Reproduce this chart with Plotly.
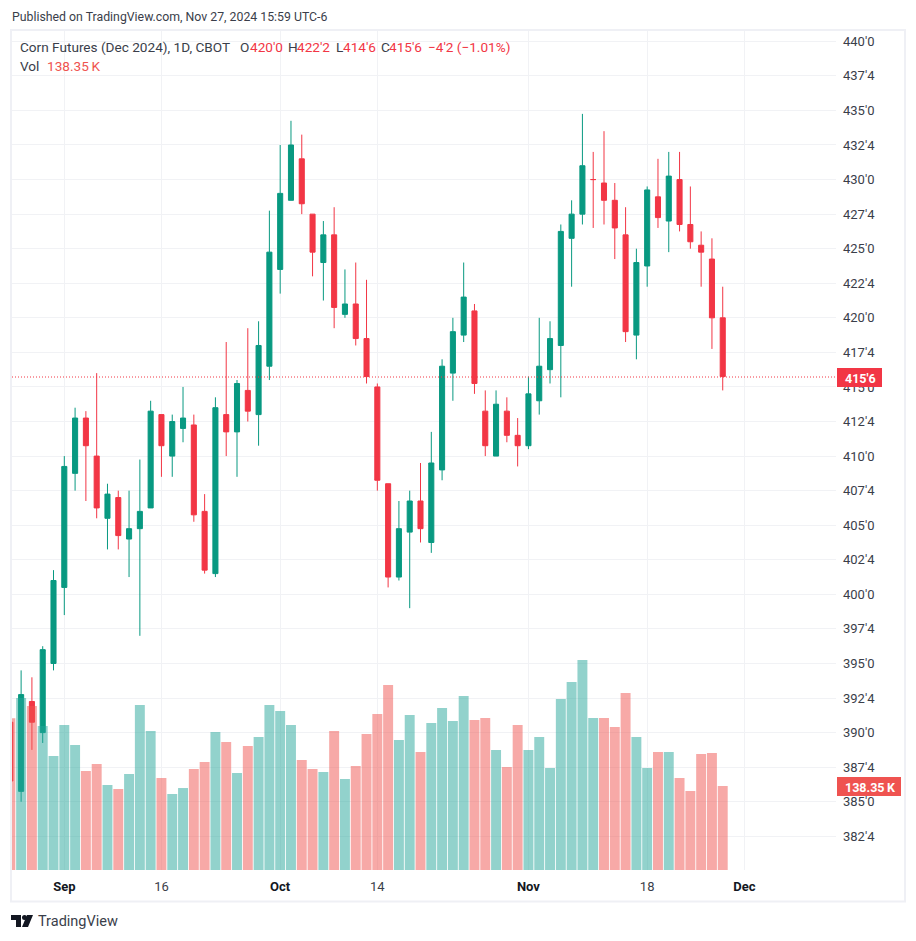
import plotly.graph_objects as go

# offset of the page body, the figure sits 8px in from the window edge
PAGE = 8
W, H = 916 - 2 * PAGE, 941 - 2 * PAGE

# plot area in window pixels
LEFT, RIGHT, TOP, BOTTOM = 12, 836, 31, 870

UP = '#089981'
DOWN = '#F23645'
VOL_UP = 'rgba(38,166,154,0.5)'
VOL_DOWN = 'rgba(239,83,80,0.5)'
TEXT = '#3a3e4a'
GRID = '#f1f2f5'
FONT = 'Roboto'

# daily bars, 26 Aug 2024 to 27 Nov 2024, x is the trading day count from 3 Sep
x = list(range(-5, 62))
opens = [390.75, 385.75, 392.25, 390, 395, 400.5, 408.75, 412.75, 410, 405.5, 407, 404, 404.75, 406.25, 413, 410,
         412, 412.25, 406, 401.5, 413, 411.75, 414.75, 413, 416.5, 423.5, 428.5, 431.5, 427.5, 424, 426, 420.25,
         421, 418.5, 415, 408, 401.25, 404.5, 406.75, 403.75, 409, 416, 418.75, 420.5, 413.25, 410, 413.25, 411.5,
         410.75, 414, 416.25, 418, 425.75, 427.5, 430, 429.75, 428.5, 426, 418.75, 423.75, 428.75, 427, 430, 426.75,
         425.25, 424.25, 420]
highs = [391.5, 394.5, 394, 396.25, 401.75, 410, 413.5, 413.25, 416, 408, 407.5, 407.5, 409.75, 414, 413, 413,
         415, 413, 407.25, 414.25, 418.25, 415.5, 419.25, 419.75, 427.75, 432.5, 434.25, 433.25, 427.5, 427, 428, 423.5,
         424, 422.75, 415.25, 408, 406.75, 407.5, 409.5, 411.75, 417, 420, 424, 421, 414.75, 414.75, 414.25, 412.75,
         415.75, 420, 419.75, 426.75, 428.5, 434.75, 432, 433.5, 429.75, 428, 425, 429.5, 431.5, 432, 432, 429.5,
         426.25, 425.75, 422.25]
lows = [386, 385, 388.75, 389.25, 394.5, 398.5, 407.5, 406.75, 405.5, 403.25, 403.25, 401.25, 397, 406.25, 408.5, 408.5,
        411, 405.25, 401.5, 401.25, 410, 408.5, 412.5, 410.75, 415.5, 421.75, 428.5, 427.5, 423, 421.25, 419.25, 420,
        418, 415.25, 407.5, 400.5, 401, 399, 403.75, 403, 408.25, 414, 418.25, 414.5, 410, 410, 411, 409.25,
        410.5, 413, 415.25, 414.25, 422.25, 426.75, 426.5, 426.75, 424.25, 418.25, 417, 422.25, 426.5, 424.75, 426.25, 425,
        422.25, 417.75, 414.75]
closes = [386.5, 392.75, 390.75, 396, 401, 409.25, 412.75, 410.75, 406.25, 407.25, 404.25, 404.75, 406, 413.25, 410.75, 412.5,
          412.75, 405.75, 401.75, 413.5, 411.75, 415.25, 413.25, 418, 424.75, 429, 432.5, 428.25, 424.75, 426, 420.75, 421,
          418.5, 415.75, 408.25, 401.25, 404.75, 406.75, 404.75, 409.5, 416.5, 419, 421.5, 415.25, 410.75, 413.75, 411.5, 410.75,
          414.5, 416.5, 418.5, 426.25, 427.5, 431, 430, 428.5, 426.5, 419, 424, 429.25, 427.25, 430.25, 426.75, 425.5,
          424.75, 420, 415.75]
# volume in thousands
volume = [249.8, 283.3, 270.1, 237.2, 187.7, 238.8, 205.9, 163, 174.6, 140, 133.4, 158.1, 271.7, 228.9, 151.5, 125.2,
          135, 166.3, 177.9, 227.3, 210.8, 159.7, 204.2, 219, 271.7, 261.9, 238.8, 181.2, 166.3, 161.4, 228.9, 149.9,
          171.3, 224, 256.9, 304.7, 214.1, 255.3, 194.3, 242.1, 266.8, 245.4, 286.6, 247, 250.3, 197.6, 169.6, 238.8,
          197.6, 219, 168, 281.6, 309.6, 345.8, 250.3, 250.3, 235.5, 291.5, 219, 168, 194.3, 194.3, 151.5, 130.1,
          191, 192.7, 138.35]

x_ticks = [0, 9, 20, 29, 43, 54, 63]
month = '<b><span style="color:#131722">%s</span></b>'
x_labels = [month % 'Sep', '16', month % 'Oct', '14', month % 'Nov', '18', month % 'Dec']

y_ticks = [382.5 + 2.5 * n for n in range(24)]
y_labels = [f"{int(v)}'{'4' if v % 1 else '0'}" for v in y_ticks]

# x pixel of a bar is 64.3 + 10.794 * day
x_range = [(LEFT - 64.3) / 10.794, (RIGHT - 64.3) / 10.794]
# 440 sits at pixel 41.3 and one cent is 13.826 px
y_range = [440 - (BOTTOM - 41.3) / 13.826, 440 + (41.3 - TOP) / 13.826]


# window pixels to paper fractions of the plot area
def px(v):
    return (v - LEFT) / (RIGHT - LEFT)


def py(v):
    return (BOTTOM - v) / (BOTTOM - TOP)


vol_colors = [VOL_UP if c >= o else VOL_DOWN for o, c in zip(opens, closes)]

fig = go.Figure()
fig.add_trace(go.Bar(x=x, y=volume, marker=dict(color=vol_colors, line_width=0), yaxis='y2', hoverinfo='skip'))
fig.add_trace(go.Candlestick(x=x, open=opens, high=highs, low=lows, close=closes, whiskerwidth=0,
                             increasing=dict(line=dict(color=UP, width=1), fillcolor=UP),
                             decreasing=dict(line=dict(color=DOWN, width=1), fillcolor=DOWN)))

# last price line
fig.add_shape(type='line', xref='paper', x0=0, x1=1, yref='y', y0=415.72, y1=415.72,
              line=dict(color=DOWN, width=1, dash='1px,2px'))

paper = dict(xref='paper', yref='paper')
# outer frame
fig.add_shape(type='rect', x0=px(11), x1=px(905), y0=py(30), y1=py(901.5), line=dict(color='#eff0f5', width=2),
              layer='below', **paper)
# price and volume badges on the scale
fig.add_shape(type='rect', x0=px(837), x1=px(882), y0=py(368), y1=py(387), fillcolor=DOWN, line_width=0, **paper)
fig.add_shape(type='rect', x0=px(837), x1=px(901), y0=py(777), y1=py(796), fillcolor='#ef5350', line_width=0, **paper)


# TradingView mark in the footer
def poly(points):
    return 'M' + 'L'.join(f'{px(a)},{py(b)}' for a, b in points) + 'Z'


fig.add_shape(type='path', path=poly([(11, 915), (21, 915), (21, 927), (16, 927), (16, 920), (11, 920)]),
              fillcolor='#131722', line_width=0, **paper)
fig.add_shape(type='path', path=poly([(27, 915), (33, 915), (28, 927), (22, 927)]), fillcolor='#131722', line_width=0,
              **paper)
fig.add_shape(type='circle', x0=px(22), x1=px(27), y0=py(915), y1=py(920), fillcolor='#131722', line_width=0, **paper)


def label(text, left, mid, color=TEXT, size=13.6):
    fig.add_annotation(text=text, xref='paper', yref='paper', x=px(left), y=py(mid), xanchor='left', yanchor='middle',
                       showarrow=False, align='left', borderpad=0, font=dict(family=FONT, size=size, color=color))


label('Published on TradingView.com, Nov 27, 2024 15:59 UTC-6', 11, 17, size=12.3)
label('Corn Futures (Dec 2024), 1D, CBOT', 19, 47)
label('O', 239, 47)
label("420'0", 249, 47, color=DOWN)
label('H', 287, 47)
label("422'2", 296, 47, color=DOWN)
label('L', 335, 47)
label("414'6", 342, 47, color=DOWN)
label('C', 380, 47)
label("415'6", 388, 47, color=DOWN)
label("\u22124'2 (\u22121.01%)", 427, 47, color=DOWN)
label('Vol', 19, 66)
label('138.35\u2009K', 46, 66, color='#ef5350')
label("<b>415'6</b>", 844, 378, color='white', size=12.5)
label('<b>138.35\u2009K</b>', 844, 787, color='white', size=12.5)
label('TradingView', 37, 921, size=14.5)

fig.update_layout(
    width=W, height=H, autosize=False,
    paper_bgcolor='white', plot_bgcolor='white',
    margin=dict(l=LEFT - PAGE, r=W + PAGE - RIGHT, t=TOP - PAGE, b=H + PAGE - BOTTOM, pad=0),
    showlegend=False, bargap=0.08, boxgap=0.33,
    font=dict(family=FONT, size=13, color=TEXT),
    xaxis=dict(range=x_range, tickmode='array', tickvals=x_ticks, ticktext=x_labels, gridcolor=GRID, gridwidth=1,
               zeroline=False, rangeslider=dict(visible=False), showline=False, ticks='', ticklabelstandoff=7),
    yaxis=dict(range=y_range, side='right', tickmode='array', tickvals=y_ticks, ticktext=y_labels, gridcolor=GRID,
               gridwidth=1, zeroline=False, showline=False, ticks='', ticklabelstandoff=6),
    yaxis2=dict(range=[0, (BOTTOM - TOP) / 0.6072], overlaying='y', visible=False),
)

fig.write_html("out.html")
